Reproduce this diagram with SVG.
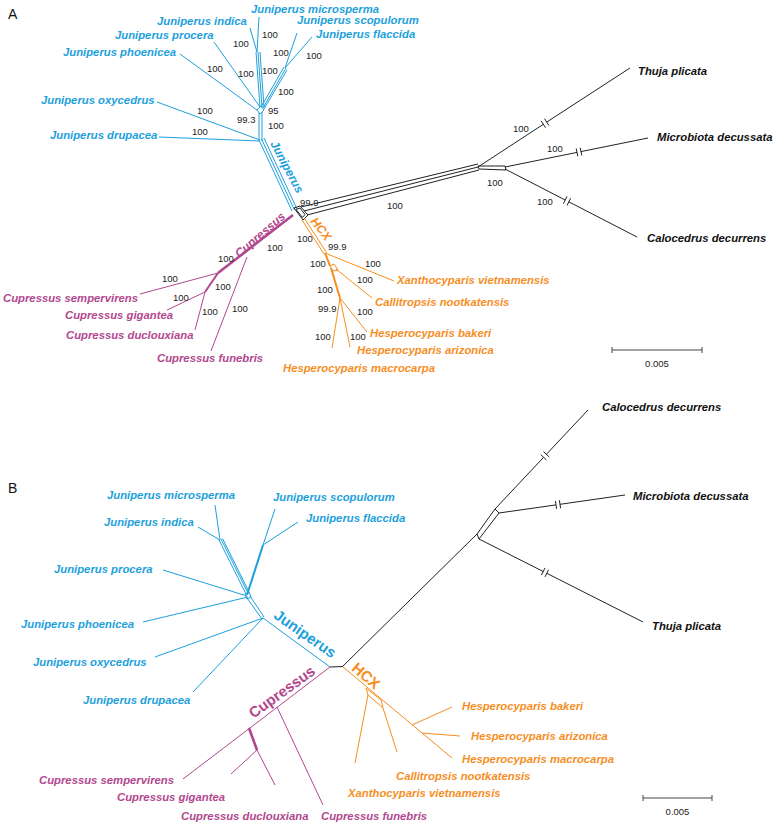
<svg xmlns="http://www.w3.org/2000/svg" width="774" height="825" viewBox="0 0 774 825">
<style>
.t{font-family:"Liberation Sans",Arial,sans-serif;font-weight:bold;font-style:italic;font-size:11.3px}
.cl{font-family:"Liberation Sans",Arial,sans-serif;font-weight:bold}
.n{font-family:"Liberation Sans",Arial,sans-serif;font-size:9.5px;fill:#222}
.p{font-family:"Liberation Sans",Arial,sans-serif;font-size:14px;fill:#111}
.jb{fill:#1d9fdc}.cu{fill:#b2478f}.hc{fill:#f68e1f}.bk{fill:#111}
.lj{stroke:#1d9fdc;fill:none}.lc{stroke:#b2478f;fill:none}.lh{stroke:#f68e1f;fill:none}.lk{stroke:#222;fill:none}
line,polyline,polygon,path{stroke-width:1}
.w2{stroke-width:2}.w3{stroke-width:2.6}
.sb{stroke:#444;stroke-width:1.6}
</style>
<rect width="774" height="825" fill="#fff"/>
<text class="p" x="8" y="19">A</text>
<text class="p" x="8" y="493">B</text>

<g id="connectors">
 <!-- Panel A Juniperus -->
 <g class="lj">
  <line x1="259" y1="17" x2="257" y2="52"/>
  <line x1="250" y1="28" x2="257" y2="52"/>
  <line x1="256" y1="52" x2="260" y2="107"/>
  <line x1="258" y1="52" x2="262" y2="107"/>
  <line x1="260" y1="52" x2="264" y2="107"/>
  <line x1="297" y1="33" x2="285" y2="68"/>
  <line x1="312" y1="37" x2="285" y2="68"/>
  <line x1="284" y1="67" x2="261" y2="107"/>
  <line x1="286" y1="68" x2="263" y2="108"/>
  <line x1="287" y1="70" x2="264" y2="109"/>
  <polygon points="257,110 261,106 264,110 260,114"/>
  <line x1="180" y1="54" x2="257" y2="110"/>
  <line x1="214" y1="42" x2="260" y2="107"/>
  <line x1="259" y1="113" x2="259" y2="140"/>
  <line x1="262" y1="112" x2="262" y2="141"/>
  <line x1="157" y1="102" x2="260" y2="140"/>
  <line x1="159" y1="137" x2="260" y2="141"/>
  <line x1="259" y1="140" x2="292" y2="211"/>
  <line x1="261.5" y1="139" x2="294.5" y2="210"/>
  <line x1="264" y1="138" x2="297" y2="209"/>
 </g>
 <!-- Panel A center -->
 <g class="lk">
  <polygon points="294,208 300,206 308,215 303,220" stroke-width="1.6"/>
  <polygon points="296,209.5 300,208 305,214.5 302.5,217.5"/>
  <line x1="301" y1="207" x2="478" y2="164"/>
  <line x1="304" y1="211" x2="478" y2="167"/>
  <line x1="307" y1="215" x2="479" y2="170"/>
  <!-- Thuja -->
  <line x1="478" y1="167" x2="543.3" y2="124.3"/>
  <line x1="546.7" y1="122.1" x2="630" y2="68"/>
  <line x1="541.1" y1="120.9" x2="545.5" y2="127.7"/>
  <line x1="544.5" y1="118.7" x2="548.9" y2="125.5"/>
  <!-- box -->
  <polygon points="478,166 505,166 506,170 479,169"/>
  <!-- Microbiota -->
  <line x1="505" y1="167" x2="577" y2="152.4"/>
  <line x1="581" y1="151.6" x2="648" y2="138"/>
  <line x1="576.2" y1="148.5" x2="577.8" y2="156.3"/>
  <line x1="580.2" y1="147.7" x2="581.8" y2="155.5"/>
  <!-- Calocedrus -->
  <line x1="505" y1="169" x2="565.2" y2="200"/>
  <line x1="568.8" y1="201.8" x2="637" y2="237"/>
  <line x1="567" y1="196.4" x2="563.4" y2="203.6"/>
  <line x1="570.6" y1="198.2" x2="567" y2="205.4"/>
 </g>
 <!-- Panel A Cupressus -->
 <g class="lc">
  <line x1="293" y1="215" x2="218" y2="273" class="w3"/>
  <line x1="247" y1="257" x2="211" y2="351"/>
  <line x1="218" y1="273" x2="140" y2="294"/>
  <line x1="218" y1="273" x2="205" y2="292" class="w2"/>
  <line x1="205" y1="292" x2="167" y2="310"/>
  <line x1="205" y1="292" x2="195" y2="330"/>
 </g>
 <!-- Panel A HCX -->
 <g class="lh">
  <line x1="302" y1="220" x2="324" y2="254"/>
  <line x1="304.5" y1="218.5" x2="326.5" y2="252.5"/>
  <line x1="325" y1="253" x2="394" y2="281"/>
  <line x1="325" y1="253" x2="330" y2="266" class="w2"/>
  <polygon points="330,266 334,264 338,270 333,271"/>
  <line x1="336" y1="269" x2="372" y2="298"/>
  <line x1="331" y1="268" x2="340" y2="298" class="w2"/>
  <line x1="340" y1="298" x2="367" y2="332"/>
  <line x1="340" y1="298" x2="332" y2="348"/>
  <line x1="340" y1="298" x2="350" y2="347"/>
 </g>
 <!-- Scale bar A -->
 <g class="sb">
  <line x1="612" y1="350" x2="702" y2="350"/>
  <line x1="612" y1="347" x2="612" y2="353"/>
  <line x1="702" y1="347" x2="702" y2="353"/>
 </g>

 <!-- Panel B Juniperus -->
 <g class="lj">
  <line x1="215" y1="505" x2="220" y2="540"/>
  <line x1="198" y1="527" x2="220" y2="540"/>
  <line x1="219" y1="540" x2="246" y2="594"/>
  <line x1="221" y1="539" x2="248" y2="593"/>
  <line x1="222.5" y1="538.5" x2="249" y2="592"/>
  <line x1="275" y1="509" x2="263" y2="545"/>
  <line x1="298" y1="522" x2="263" y2="545"/>
  <line x1="263" y1="545" x2="247" y2="595" class="w2"/>
  <line x1="163" y1="570" x2="247" y2="596"/>
  <line x1="143" y1="622" x2="248" y2="597"/>
  <polygon points="245,594 249,592 251,597 247,599"/>
  <line x1="247" y1="598" x2="262" y2="619"/>
  <line x1="250" y1="596" x2="264" y2="617"/>
  <line x1="155" y1="657" x2="263" y2="618"/>
  <line x1="193" y1="692" x2="263" y2="618"/>
  <line x1="263" y1="618" x2="330" y2="667"/>
 </g>
 <g class="lk">
  <line x1="330" y1="667" x2="343" y2="666.5" stroke-width="1.4"/>
  <line x1="343" y1="666" x2="477" y2="534"/>
  <polygon points="477,534 495,509 499,513 479,539"/>
  <!-- Calocedrus -->
  <line x1="495" y1="509" x2="543.6" y2="457.3"/>
  <line x1="546.4" y1="454.3" x2="588" y2="410"/>
  <line x1="540.7" y1="454.6" x2="546.5" y2="460"/>
  <line x1="543.5" y1="451.6" x2="549.3" y2="457"/>
  <!-- Microbiota -->
  <line x1="499" y1="513" x2="556" y2="504.9"/>
  <line x1="560" y1="504.3" x2="625" y2="495"/>
  <line x1="555.4" y1="500.9" x2="556.6" y2="508.9"/>
  <line x1="559.4" y1="500.3" x2="560.6" y2="508.3"/>
  <!-- Thuja -->
  <line x1="479" y1="539" x2="543.2" y2="571.5"/>
  <line x1="546.8" y1="573.3" x2="643" y2="622"/>
  <line x1="545" y1="567.9" x2="541.4" y2="575.1"/>
  <line x1="548.6" y1="569.7" x2="545" y2="576.9"/>
 </g>
 <!-- Panel B Cupressus -->
 <g class="lc">
  <line x1="330" y1="667" x2="183" y2="779"/>
  <line x1="277" y1="707" x2="323" y2="805"/>
  <line x1="249" y1="728" x2="257" y2="750" class="w3"/>
  <line x1="257" y1="750" x2="231" y2="774"/>
  <line x1="257" y1="750" x2="275" y2="785"/>
 </g>
 <!-- Panel B HCX -->
 <g class="lh">
  <line x1="343" y1="667" x2="452" y2="758"/>
  <polygon points="366,688 381,700 383,708 368,695"/>
  <line x1="368" y1="695" x2="355" y2="763"/>
  <line x1="383" y1="708" x2="397" y2="752"/>
  <line x1="412" y1="725" x2="452" y2="707"/>
  <line x1="422" y1="733" x2="460" y2="736"/>
 </g>
 <g class="sb">
  <line x1="643" y1="798" x2="712" y2="798"/>
  <line x1="643" y1="795" x2="643" y2="801"/>
  <line x1="712" y1="795" x2="712" y2="801"/>
 </g>
</g>

<g id="support-values" class="n">
 <text x="233" y="47">100</text>
 <text x="262" y="38">100</text>
 <text x="273" y="56">100</text>
 <text x="306" y="59">100</text>
 <text x="262" y="74">100</text>
 <text x="238" y="77">100</text>
 <text x="207" y="72">100</text>
 <text x="278" y="95">100</text>
 <text x="268" y="114">95</text>
 <text x="237" y="123">99.3</text>
 <text x="268" y="129">100</text>
 <text x="197" y="114">100</text>
 <text x="192" y="135">100</text>
 <text x="300" y="206">99.9</text>
 <text x="387" y="209">100</text>
 <text x="513" y="132">100</text>
 <text x="547" y="152">100</text>
 <text x="487" y="186">100</text>
 <text x="537" y="205">100</text>
 <text x="218" y="262">100</text>
 <text x="267" y="251">100</text>
 <text x="162" y="282">100</text>
 <text x="215" y="290">100</text>
 <text x="173" y="301">100</text>
 <text x="202" y="315">100</text>
 <text x="232" y="312">100</text>
 <text x="297" y="242">100</text>
 <text x="328" y="250">99.9</text>
 <text x="365" y="267">100</text>
 <text x="310" y="267">100</text>
 <text x="357" y="283">100</text>
 <text x="317" y="293">100</text>
 <text x="357" y="315">100</text>
 <text x="318" y="312">99.9</text>
 <text x="315" y="340">100</text>
 <text x="350" y="340">100</text>
 <text x="657" y="367" text-anchor="middle">0.005</text>
 <text x="677.5" y="815" text-anchor="middle">0.005</text>
</g>

<g id="clade-labels" class="cl">
 <text class="jb" font-style="italic" font-size="12" text-anchor="middle" transform="translate(287,167) rotate(62)" y="4">Juniperus</text>
 <text class="cu" font-style="italic" font-size="12" text-anchor="middle" transform="translate(260,235) rotate(-41)" y="4">Cupressus</text>
 <text class="hc" font-style="italic" font-size="12" text-anchor="middle" transform="translate(321,229) rotate(52)" y="4">HCX</text>
 <text class="jb" font-size="15" text-anchor="middle" transform="translate(305,634) rotate(35)" y="5">Juniperus</text>
 <text class="cu" font-size="15" text-anchor="middle" transform="translate(282,692) rotate(-36)" y="5">Cupressus</text>
 <text class="hc" font-size="15" text-anchor="middle" transform="translate(366,676) rotate(41)" y="5">HCX</text>
</g>

<!-- Panel A taxa -->
<g id="a-juniperus-microsperma"><text class="t jb" x="251" y="13">Juniperus microsperma</text></g>
<g id="a-juniperus-indica"><text class="t jb" x="157" y="25">Juniperus indica</text></g>
<g id="a-juniperus-scopulorum"><text class="t jb" x="297" y="24">Juniperus scopulorum</text></g>
<g id="a-juniperus-flaccida"><text class="t jb" x="316" y="38">Juniperus flaccida</text></g>
<g id="a-juniperus-procera"><text class="t jb" x="115" y="39">Juniperus procera</text></g>
<g id="a-juniperus-phoenicea"><text class="t jb" x="63" y="56">Juniperus phoenicea</text></g>
<g id="a-juniperus-oxycedrus"><text class="t jb" x="41" y="104">Juniperus oxycedrus</text></g>
<g id="a-juniperus-drupacea"><text class="t jb" x="50" y="139">Juniperus drupacea</text></g>
<g id="a-thuja-plicata"><text class="t bk" x="638" y="75">Thuja plicata</text></g>
<g id="a-microbiota-decussata"><text class="t bk" x="657" y="141">Microbiota decussata</text></g>
<g id="a-calocedrus-decurrens"><text class="t bk" x="647" y="242">Calocedrus decurrens</text></g>
<g id="a-cupressus-sempervirens"><text class="t cu" x="3" y="302">Cupressus sempervirens</text></g>
<g id="a-cupressus-gigantea"><text class="t cu" x="65" y="319">Cupressus gigantea</text></g>
<g id="a-cupressus-duclouxiana"><text class="t cu" x="66" y="339">Cupressus duclouxiana</text></g>
<g id="a-cupressus-funebris"><text class="t cu" x="157" y="362">Cupressus funebris</text></g>
<g id="a-xanthocyparis-vietnamensis"><text class="t hc" x="397" y="284">Xanthocyparis vietnamensis</text></g>
<g id="a-callitropsis-nootkatensis"><text class="t hc" x="375" y="306">Callitropsis nootkatensis</text></g>
<g id="a-hesperocyparis-bakeri"><text class="t hc" x="370" y="337">Hesperocyparis bakeri</text></g>
<g id="a-hesperocyparis-arizonica"><text class="t hc" x="357" y="354">Hesperocyparis arizonica</text></g>
<g id="a-hesperocyparis-macrocarpa"><text class="t hc" x="283" y="372">Hesperocyparis macrocarpa</text></g>

<!-- Panel B taxa -->
<g id="b-juniperus-microsperma"><text class="t jb" x="107" y="499">Juniperus microsperma</text></g>
<g id="b-juniperus-scopulorum"><text class="t jb" x="273" y="501">Juniperus scopulorum</text></g>
<g id="b-juniperus-indica"><text class="t jb" x="104" y="526">Juniperus indica</text></g>
<g id="b-juniperus-flaccida"><text class="t jb" x="306" y="522">Juniperus flaccida</text></g>
<g id="b-juniperus-procera"><text class="t jb" x="54" y="573">Juniperus procera</text></g>
<g id="b-juniperus-phoenicea"><text class="t jb" x="21" y="628">Juniperus phoenicea</text></g>
<g id="b-juniperus-oxycedrus"><text class="t jb" x="33" y="666">Juniperus oxycedrus</text></g>
<g id="b-juniperus-drupacea"><text class="t jb" x="83" y="704">Juniperus drupacea</text></g>
<g id="b-calocedrus-decurrens"><text class="t bk" x="602" y="411">Calocedrus decurrens</text></g>
<g id="b-microbiota-decussata"><text class="t bk" x="633" y="500">Microbiota decussata</text></g>
<g id="b-thuja-plicata"><text class="t bk" x="652" y="630">Thuja plicata</text></g>
<g id="b-hesperocyparis-bakeri"><text class="t hc" x="462" y="710">Hesperocyparis bakeri</text></g>
<g id="b-hesperocyparis-arizonica"><text class="t hc" x="471" y="740">Hesperocyparis arizonica</text></g>
<g id="b-hesperocyparis-macrocarpa"><text class="t hc" x="462" y="763">Hesperocyparis macrocarpa</text></g>
<g id="b-callitropsis-nootkatensis"><text class="t hc" x="396" y="780">Callitropsis nootkatensis</text></g>
<g id="b-xanthocyparis-vietnamensis"><text class="t hc" x="348" y="797">Xanthocyparis vietnamensis</text></g>
<g id="b-cupressus-sempervirens"><text class="t cu" x="39" y="784">Cupressus sempervirens</text></g>
<g id="b-cupressus-gigantea"><text class="t cu" x="117" y="801">Cupressus gigantea</text></g>
<g id="b-cupressus-duclouxiana"><text class="t cu" x="181" y="820">Cupressus duclouxiana</text></g>
<g id="b-cupressus-funebris"><text class="t cu" x="321" y="820">Cupressus funebris</text></g>
</svg>
